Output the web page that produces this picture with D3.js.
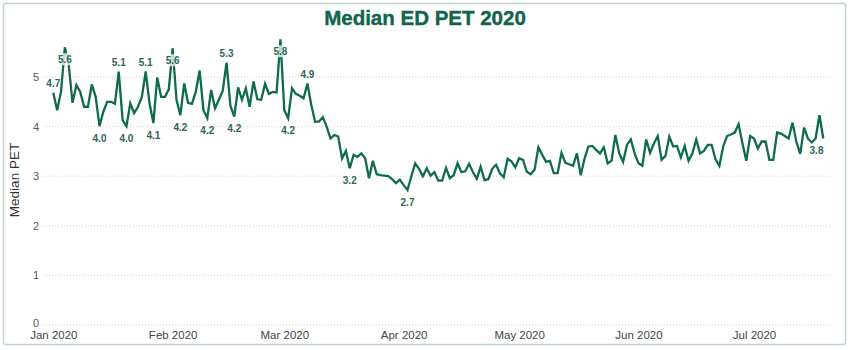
<!DOCTYPE html>
<html>
<head>
<meta charset="utf-8">
<script src="https://cdn.jsdelivr.net/npm/d3@7"></script>
<style>
  body { margin: 0; background: #fff; }
  svg { display: block; }
</style>
</head>
<body>
<svg id="chart" width="850" height="350"></svg>
<script>
// daily median ED PET, one array per month (Jan 1 - Jul 19 2020)
var startDate = "2020-01-01";
var janValues = [4.68, 4.33, 4.70, 5.60, 5.25, 4.48, 4.84, 4.70, 4.40, 4.40, 4.85, 4.60, 4.01, 4.30, 4.50, 4.50,
  4.46, 5.11, 4.13, 4.01, 4.47, 4.27, 4.40, 4.60, 5.11, 4.47, 4.07, 4.99, 4.60, 4.60, 4.75];
var febValues = [5.58, 4.54, 4.23, 4.87, 4.48, 4.46, 4.70, 5.13, 4.33, 4.17, 4.74, 4.37, 4.54, 4.72, 5.29, 4.42,
  4.20, 4.79, 4.54, 4.77, 4.40, 4.91, 4.55, 4.54, 4.86, 4.66, 4.70, 4.69, 5.76];
var marValues = [4.33, 4.17, 4.77, 4.66, 4.62, 4.57, 4.87, 4.44, 4.10, 4.10, 4.19, 4.00, 3.76, 3.83, 3.80, 3.36,
  3.51, 3.16, 3.43, 3.39, 3.46, 3.36, 2.96, 3.31, 3.04, 3.02, 3.01, 3.00, 2.94, 2.86, 2.93];
var aprValues = [2.82, 2.72, 3.00, 3.26, 3.15, 3.00, 3.16, 3.01, 3.08, 2.91, 2.91, 3.17, 2.96, 3.02, 3.26, 3.08,
  3.10, 3.25, 3.08, 2.95, 3.19, 2.92, 2.94, 3.15, 3.23, 3.06, 2.98, 3.35, 3.30, 3.18];
var mayValues = [3.36, 3.33, 3.09, 3.04, 3.13, 3.58, 3.43, 3.29, 3.31, 3.06, 3.06, 3.47, 3.27, 3.24, 3.21, 3.46,
  3.02, 3.36, 3.60, 3.61, 3.53, 3.46, 3.58, 3.26, 3.31, 3.83, 3.46, 3.29, 3.63, 3.74, 3.46];
var junValues = [3.26, 3.21, 3.74, 3.47, 3.66, 3.81, 3.33, 3.41, 3.80, 3.60, 3.61, 3.38, 3.61, 3.31, 3.46, 3.74,
  3.46, 3.51, 3.63, 3.63, 3.34, 3.21, 3.60, 3.81, 3.84, 3.88, 4.05, 3.66, 3.31, 3.81];
var julValues = [3.76, 3.56, 3.70, 3.70, 3.33, 3.33, 3.88, 3.86, 3.81, 3.76, 4.08, 3.70, 3.45, 3.98, 3.76, 3.68,
  3.76, 4.23, 3.76];

// data labels shown on the chart
var labelDates = ["2020-01-01", "2020-01-04", "2020-01-13", "2020-01-18", "2020-01-20", "2020-01-25",
  "2020-01-27", "2020-02-01", "2020-02-03", "2020-02-10", "2020-02-15", "2020-02-17", "2020-02-29",
  "2020-03-02", "2020-03-07", "2020-03-18", "2020-04-02", "2020-07-19"];
var labelPlace = ["above", "inside", "below", "above", "below", "above", "below", "inside", "below", "below",
  "above", "below", "inside", "below", "above", "below", "below", "below"];

var yTicks = [0, 1, 2, 3, 4, 5];

var svg = d3.select("#chart");
var parse = d3.timeParse("%Y-%m-%d");
var green = "#0f6a4f";

var values = janValues.concat(febValues, marValues, aprValues, mayValues, junValues, julValues);
var data = values.map(function (v, i) {
  return { date: d3.timeDay.offset(parse(startDate), i), value: v };
});

// frame
svg.append("rect")
  .attr("x", 3.5).attr("y", 3.5)
  .attr("width", 842).attr("height", 341)
  .attr("rx", 2)
  .attr("fill", "none")
  .attr("stroke", "#bfd2cd")
  .attr("stroke-width", 1.5);

// title
svg.append("text")
  .attr("x", 425).attr("y", 25)
  .attr("text-anchor", "middle")
  .style("font-family", "'Liberation Sans', Arial, sans-serif")
  .style("font-weight", "bold")
  .style("font-size", "20.5px")
  .attr("fill", "#10654c")
  .attr("stroke", "#10654c")
  .attr("stroke-width", 0.4)
  .text("Median ED PET 2020");

// scales
var x = d3.scaleTime()
  .domain([data[0].date, data[data.length - 1].date])
  .range([53.3, 823.3]);

var y = d3.scaleLinear().domain([0, 5]).range([325, 77]);

// grid lines
svg.append("g")
  .selectAll("line")
  .data(yTicks)
  .enter()
  .append("line")
  .attr("x1", 43).attr("x2", 830)
  .attr("y1", function (d) { return y(d); })
  .attr("y2", function (d) { return y(d); })
  .attr("stroke", "#d3d3d3")
  .attr("stroke-width", 1)
  .attr("stroke-dasharray", "1,2");

// y axis
var yAxis = svg.append("g")
  .attr("transform", "translate(41,0)")
  .call(d3.axisLeft(y).tickValues(yTicks).tickSize(0).tickPadding(2).tickFormat(d3.format("d")));
yAxis.select(".domain").remove();
yAxis.selectAll("text")
  .style("font-family", "'Liberation Sans', Arial, sans-serif")
  .style("font-size", "11px")
  .attr("fill", "#555");
// zero label sits a little higher so it clears the month labels
yAxis.selectAll("text").filter(function (d) { return d === 0; }).attr("dy", "0.1em");

// x axis
var xAxis = svg.append("g")
  .attr("transform", "translate(0,325)")
  .call(d3.axisBottom(x).ticks(d3.timeMonth.every(1)).tickSize(0).tickPadding(6)
    .tickFormat(d3.timeFormat("%b %Y")));
xAxis.select(".domain").remove();
xAxis.selectAll("text")
  .style("font-family", "'Liberation Sans', Arial, sans-serif")
  .style("font-size", "11.5px")
  .attr("fill", "#444");

// y axis title
svg.append("text")
  .attr("transform", "translate(19,180) rotate(-90)")
  .attr("text-anchor", "middle")
  .style("font-family", "'Liberation Sans', Arial, sans-serif")
  .style("font-size", "13.5px")
  .attr("fill", "#333")
  .text("Median PET");

// line
var line = d3.line()
  .x(function (d) { return x(d.date); })
  .y(function (d) { return y(d.value); });

svg.append("path")
  .datum(data)
  .attr("d", line)
  .attr("fill", "none")
  .attr("stroke", green)
  .attr("stroke-width", 2.3)
  .attr("stroke-linejoin", "miter");

// data labels
var byDate = {};
data.forEach(function (d) { byDate[+d.date] = d; });
var fmt = d3.format(".1f");

var labels = svg.append("g")
  .selectAll("g")
  .data(labelDates.map(function (s, i) {
    return { point: byDate[+parse(s)], place: labelPlace[i] };
  }))
  .enter()
  .append("g")
  .attr("transform", function (d) {
    var px = Math.min(x(d.point.date), 816.5);
    var py = y(d.point.value);
    if (d.place === "above") py -= 9;
    else py += 12;
    return "translate(" + px + "," + py + ")";
  });

labels.filter(function (d) { return d.place === "inside"; })
  .append("rect")
  .attr("x", -8.5).attr("y", -6)
  .attr("width", 17).attr("height", 12)
  .attr("fill", "#fff")
  .attr("fill-opacity", 0.75);

labels.append("text")
  .attr("text-anchor", "middle")
  .attr("dy", "0.35em")
  .style("font-family", "'Liberation Sans', Arial, sans-serif")
  .style("font-weight", "bold")
  .style("font-size", "10px")
  .attr("fill", "#2c6656")
  .text(function (d) { return fmt(d.point.value); });
</script>
</body>
</html>
